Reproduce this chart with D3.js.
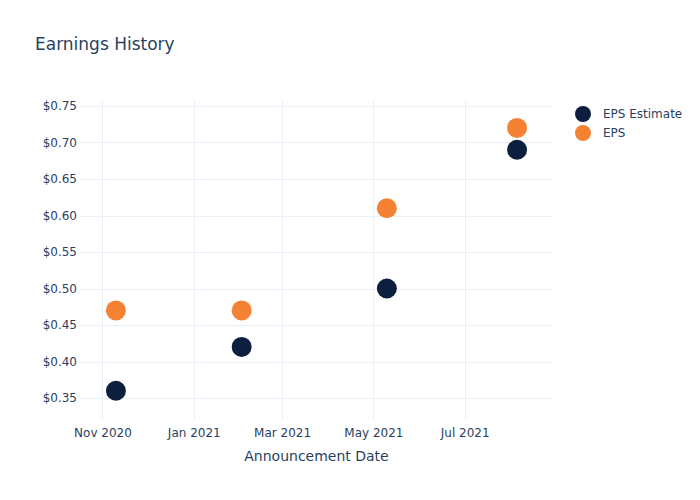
<!DOCTYPE html>
<html>
<head>
<meta charset="utf-8">
<script src="https://cdn.jsdelivr.net/npm/d3@7"></script>
<style>
body { margin: 0; background: #fff; }
svg text { font-family: "DejaVu Sans", Verdana, sans-serif; fill: #2a3f5f; }
</style>
</head>
<body>
<svg id="chart" width="700" height="500"></svg>
<script>
const dates = ["2020-11-10", "2021-02-02", "2021-05-10", "2021-08-05"];
const epsEstimate = [0.36, 0.42, 0.50, 0.69];
const eps = [0.47, 0.47, 0.61, 0.72];
const yTicks = [0.35, 0.40, 0.45, 0.50, 0.55, 0.60, 0.65, 0.70, 0.75];
const xTicks = ["2020-11-01", "2021-01-01", "2021-03-01", "2021-05-01", "2021-07-01"];
const seriesNames = ["EPS Estimate", "EPS"];
const seriesColors = ["#0d1f3f", "#f58232"];

const parse = d3.utcParse("%Y-%m-%d");
const svg = d3.select("#chart");
const m = { l: 80, r: 147, t: 100, b: 80 };
const W = 700, H = 500;

const x = d3.scaleUtc()
  .domain([parse("2020-10-17"), parse("2021-08-29")])
  .range([m.l, W - m.r]);
const y = d3.scaleLinear()
  .domain([0.3199, 0.7582])
  .range([H - m.b, m.t]);

// gridlines
const g = svg.append("g");
g.selectAll(".xg").data(xTicks).enter().append("line")
  .attr("x1", d => Math.round(x(parse(d))) + 0.5).attr("x2", d => Math.round(x(parse(d))) + 0.5)
  .attr("y1", m.t).attr("y2", H - m.b)
  .attr("stroke", "#ebf0f8").attr("stroke-width", 1);
g.selectAll(".yg").data(yTicks).enter().append("line")
  .attr("x1", m.l).attr("x2", W - m.r)
  .attr("y1", d => Math.round(y(d)) + 0.5).attr("y2", d => Math.round(y(d)) + 0.5)
  .attr("stroke", "#ebf0f8").attr("stroke-width", 1);

// axes
const xAxis = d3.axisBottom(x).tickValues(xTicks.map(parse))
  .tickFormat(d3.utcFormat("%b %Y")).tickSize(0).tickPadding(8);
const xg = svg.append("g").attr("transform", `translate(0,${H - m.b})`).call(xAxis);
xg.select(".domain").remove();
xg.selectAll("text").attr("font-size", 12).style("fill", "#2a3f5f").attr("font-family", "DejaVu Sans");

const yAxis = d3.axisLeft(y).tickValues(yTicks)
  .tickFormat(d => "$" + d3.format(".2f")(d)).tickSize(0).tickPadding(3);
const yg = svg.append("g").attr("transform", `translate(${m.l},0)`).call(yAxis);
yg.select(".domain").remove();
yg.selectAll("text").attr("font-size", 12).style("fill", "#2a3f5f").attr("font-family", "DejaVu Sans");

// points
const series = [epsEstimate, eps];
series.forEach((vals, si) => {
  svg.append("g").selectAll("circle").data(vals).enter().append("circle")
    .attr("cx", (d, i) => x(parse(dates[i])))
    .attr("cy", d => y(d))
    .attr("r", 10)
    .attr("fill", seriesColors[si]);
});

// title
svg.append("text").attr("x", 35).attr("y", 50).attr("font-size", 17).text("Earnings History");
// axis title
svg.append("text").attr("x", (m.l + W - m.r) / 2).attr("y", 461)
  .attr("text-anchor", "middle").attr("font-size", 14).text("Announcement Date");

// legend
const lg = svg.append("g");
seriesNames.forEach((n, i) => {
  lg.append("circle").attr("cx", 583).attr("cy", 114 + i * 19).attr("r", 8).attr("fill", seriesColors[i]);
  lg.append("text").attr("x", 603).attr("y", 118 + i * 19).attr("font-size", 12).text(n);
});
</script>
</body>
</html>
